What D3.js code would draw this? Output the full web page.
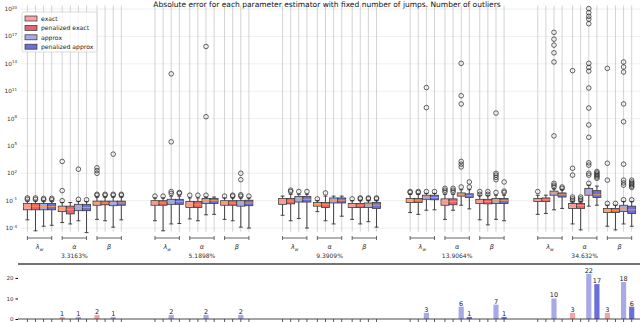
<!DOCTYPE html>
<html>
<head>
<meta charset="utf-8">
<script src="https://cdn.jsdelivr.net/npm/d3@7"></script>
<style>
  body { margin: 0; background: #fff; }
  text { font-family: 'DejaVu Sans', sans-serif; }
</style>
</head>
<body>
<div id="chart"></div>
<script>
const title = 'Absolute error for each parameter estimator with fixed number of jumps. Number of outliers'
const estimators = ['exact', 'penalized exact', 'approx', 'penalized approx']
const colors = ['#f4a3a9', '#e3646c', '#a8aae6', '#6b70d8']
const params = ['λw', 'α', 'β']
const percents = ['3.3163%', '5.1898%', '9.3909%', '13.9064%', '34.632%']
const yTickExp = [-4, -1, 2, 5, 8, 11, 14, 17, 20]

// box stats as log10 exponents, 5 groups x 3 params x 4 estimators
const whiskLow = [
  -3.1, -4.3, -3.8, -3.7,  -3.4, -3.55, -3.2, -4.5,  -3.05, -3.2, -3.9, -3.1,
  -3.2, -4.3, -3.55, -3.5,  -3.0, -3.2, -2.55, -2.5,  -3.05, -3.2, -3.9, -4.0,
  -2.6, -3.2, -2.95, -4.0,  -2.2, -3.2, -3.55, -2.7,  -3.05, -3.55, -3.3, -3.9,
  -2.3, -2.5, -2.05, -2.0,  -3.05, -2.05, -1.5, -1.9,  -3.1, -3.65, -3.05, -3.2,
  -2.5, -2.4, -2.0, -1.85,  -3.55, -4.2, -1.6, -1.5,  -3.8, -4.2, -3.55, -3.8
]
const q1 = [
  -2.0, -2.0, -2.0, -2.0,  -2.2, -2.45, -2.1, -2.1,  -1.5, -1.45, -1.55, -1.5,
  -1.5, -1.5, -1.4, -1.4,  -1.75, -1.75, -1.3, -1.3,  -1.5, -1.5, -1.6, -1.55,
  -1.4, -1.35, -1.15, -1.15,  -1.6, -1.75, -1.25, -1.25,  -1.75, -1.75, -1.75, -1.85,
  -1.2, -1.2, -0.85, -0.9,  -1.5, -1.45, -0.5, -0.65,  -1.3, -1.35, -1.3, -1.3,
  -1.1, -1.1, -0.4, -0.6,  -1.85, -1.85, -0.4, -0.65,  -2.3, -2.3, -2.2, -2.4
]
const median = [
  -1.6, -1.6, -1.65, -1.65,  -1.85, -1.95, -1.75, -1.75,  -1.25, -1.25, -1.3, -1.25,
  -1.25, -1.25, -1.1, -1.1,  -1.45, -1.45, -1.0, -1.0,  -1.25, -1.25, -1.3, -1.25,
  -1.05, -1.05, -0.85, -0.85,  -1.4, -1.45, -0.95, -0.95,  -1.5, -1.5, -1.45, -1.5,
  -0.95, -0.95, -0.6, -0.65,  -1.15, -1.1, -0.3, -0.45,  -1.05, -1.1, -1.0, -1.0,
  -0.9, -0.9, -0.15, -0.35,  -1.55, -1.55, -0.25, -0.35,  -2.05, -2.05, -1.9, -2.0
]
const q3 = [
  -1.3, -1.3, -1.3, -1.3,  -1.6, -1.6, -1.4, -1.4,  -1.05, -1.05, -1.05, -1.05,
  -1.0, -1.0, -0.85, -0.85,  -1.1, -1.1, -0.75, -0.75,  -1.0, -1.0, -1.0, -0.95,
  -0.75, -0.75, -0.55, -0.55,  -1.2, -1.2, -0.7, -0.7,  -1.3, -1.3, -1.25, -1.2,
  -0.75, -0.75, -0.4, -0.4,  -0.8, -0.8, -0.15, -0.25,  -0.85, -0.85, -0.75, -0.75,
  -0.75, -0.7, 0.05, -0.15,  -1.3, -1.3, 0.35, 0.1,  -1.85, -1.85, -1.5, -1.6
]
const whiskHigh = [
  -1.05, -1.05, -1.05, -1.05,  -1.2, -1.2, -1.1, -1.1,  -0.6, -0.6, -0.6, -0.6,
  -0.7, -0.7, -0.5, -0.5,  -0.7, -0.7, -0.6, -0.6,  -0.7, -0.7, -0.7, -0.7,
  -0.5, -0.3, -0.3, -0.3,  -1.0, -0.5, -0.5, -0.5,  -1.0, -1.0, -1.0, -1.0,
  -0.3, -0.3, -0.2, -0.2,  -0.3, -0.3, 0.2, 0.2,  -0.4, -0.4, -0.4, -0.4,
  -0.4, -0.4, 0.3, 0.2,  -1.1, -1.1, 0.7, 0.6,  -1.5, -1.5, -1.1, -1.1
]
const outliers = [
  [-0.7, -0.85], [-0.7, -0.85], [-0.75, -0.9], [-0.75, -0.9],
  [-1.0, 0.1, 3.3], [], [-0.85, 2.45], [-0.9],
  [-0.4, -0.3, 2.0, 2.3, 2.6], [-0.4, -0.3], [-0.4, -0.3, 4.1], [-0.4, -0.3],
  [-0.5], [-0.5], [-0.2, 0.0, 5.45, 12.9], [-0.2, -0.1],
  [-0.4], [-0.4], [-0.4, 8.2, 15.9], [],
  [-0.5], [-0.5, -0.4], [-0.5, -0.35, 1.3, 2.0], [-0.5],
  [], [0.0, 0.15], [0.0], [0.0],
  [-0.8], [-0.15], [], [],
  [-0.8], [-0.8, -0.7], [-0.8, -0.7], [-0.8, -0.7],
  [0.0, -0.1], [0.0, -0.1], [0.0, 9.2, 11.4], [0.0],
  [-0.05, 0.15, 0.35], [-0.05, 0.15, 0.35], [0.5, 2.7, 3.0, 3.3, 9.6, 10.5, 14.05], [0.5, 1.05],
  [-0.3, 0.0], [-0.3, 0.0], [-0.1, 1.3, 1.55, 1.8, 2.0, 8.6], [-0.1, 0.05, 1.05],
  [0.0], [], [0.5, 0.7, 0.9, 6.1, 14.2, 15.2, 16.05, 16.7, 17.45], [0.35, 0.5],
  [-1.0, -0.8, -0.6, 1.8, 2.55, 13.25], [-1.0, -0.8, -0.6],
  [0.9, 1.8, 2.0, 2.9, 3.15, 5.95, 7.3, 9.15, 11.35, 13.2, 13.6, 14.05, 18.4, 18.9, 19.2, 19.6, 20.05],
  [1.45, 1.6, 1.75, 1.9, 2.05, 2.2],
  [-1.3, 1.25, 3.1, 13.5], [-1.3],
  [-0.9, 0.7, 0.95, 1.25, 3.0, 7.65, 9.6, 13.1, 13.65, 14.2],
  [-0.9, 0.45, 0.6, 0.75, 0.9, 1.05, 1.25]
]
const outlierCount = [
  0, 0, 0, 0,  1, 0, 1, 0,  2, 0, 1, 0,
  0, 0, 2, 0,  0, 0, 2, 0,  0, 0, 2, 0,
  0, 0, 0, 0,  0, 0, 0, 0,  0, 0, 0, 0,
  0, 0, 3, 0,  0, 0, 6, 1,  0, 0, 7, 1,
  0, 0, 10, 0,  3, 0, 22, 17,  3, 0, 18, 6
]

const W = 640, H = 322
const offsets = [-1.05, -0.35, 0.35, 1.05]
const boxes = whiskLow.map((lo, i) => {
  const g = Math.floor(i / 12), p = Math.floor(i / 4) % 3, e = i % 4
  return {
    pos: g * 11 + p * 3 + offsets[e], e,
    lo, q1: q1[i], med: median[i], q3: q3[i], hi: whiskHigh[i],
    out: outliers[i], count: outlierCount[i]
  }
})

const x = d3.scaleLinear().domain([-1.6, 51.8]).range([21, 640.4])
const y = d3.scaleLog().domain([Math.pow(10, -4.4), Math.pow(10, 20.4)]).range([231.7, 5.4])
const y2 = d3.scaleLinear().domain([0, 26.3]).range([319, 265])
const ey = v => y(Math.pow(10, v))
const bw = x(0.68) - x(0)

const svg = d3.select('#chart').append('svg').attr('width', W).attr('height', H)

// main panel grid
const main = svg.append('g')
main.selectAll('.hgrid').data(yTickExp).enter().append('line')
  .attr('x1', x.range()[0]).attr('x2', W)
  .attr('y1', d => ey(d)).attr('y2', d => ey(d))
  .attr('stroke', '#ebebeb').attr('stroke-width', 0.8)
main.selectAll('.vgrid').data(boxes).enter().append('line')
  .attr('x1', d => x(d.pos)).attr('x2', d => x(d.pos))
  .attr('y1', y.range()[1]).attr('y2', y.range()[0])
  .attr('stroke', '#c8c8c8').attr('stroke-width', 0.8)

const ylab = main.selectAll('.ylab').data(yTickExp).enter().append('text')
  .attr('x', 17).attr('y', d => ey(d) + 2)
  .attr('text-anchor', 'end').attr('font-size', 5.8).attr('fill', '#333')
ylab.append('tspan').text('10')
ylab.append('tspan').attr('dy', -2.5).attr('font-size', 4).text(d => d)

// boxes
const bx = main.selectAll('.box').data(boxes).enter().append('g')
bx.append('line')
  .attr('x1', d => x(d.pos)).attr('x2', d => x(d.pos))
  .attr('y1', d => ey(d.lo)).attr('y2', d => ey(d.q1))
  .attr('stroke', '#333').attr('stroke-width', 0.9)
bx.append('line')
  .attr('x1', d => x(d.pos)).attr('x2', d => x(d.pos))
  .attr('y1', d => ey(d.q3)).attr('y2', d => ey(d.hi))
  .attr('stroke', '#333').attr('stroke-width', 0.9)
bx.selectAll('.cap').data(d => [d.lo, d.hi].map(v => ({ pos: d.pos, v }))).enter().append('line')
  .attr('x1', d => x(d.pos) - bw / 4).attr('x2', d => x(d.pos) + bw / 4)
  .attr('y1', d => ey(d.v)).attr('y2', d => ey(d.v))
  .attr('stroke', '#333').attr('stroke-width', 0.9)
bx.append('rect')
  .attr('x', d => x(d.pos) - bw / 2).attr('width', bw)
  .attr('y', d => ey(d.q3)).attr('height', d => ey(d.q1) - ey(d.q3))
  .attr('fill', d => colors[d.e]).attr('stroke', '#3a3a3a').attr('stroke-width', 0.8)
bx.append('line')
  .attr('x1', d => x(d.pos) - bw / 2).attr('x2', d => x(d.pos) + bw / 2)
  .attr('y1', d => ey(d.med)).attr('y2', d => ey(d.med))
  .attr('stroke', '#ff9a3c').attr('stroke-width', 0.9)
bx.selectAll('.out').data(d => d.out.map(v => ({ pos: d.pos, v }))).enter().append('circle')
  .attr('cx', d => x(d.pos)).attr('cy', d => ey(d.v)).attr('r', 2.3)
  .attr('fill', 'none').attr('stroke', '#222').attr('stroke-width', 0.7)

// parameter brackets
const groupsIdx = d3.range(5)
const labels = []
groupsIdx.forEach(g => params.forEach((p, j) => labels.push({ c: g * 11 + j * 3, p })))
const br = svg.selectAll('.br').data(labels).enter().append('g').attr('stroke', '#555').attr('stroke-width', 0.9)
br.append('line').attr('x1', d => x(d.c - 1.05)).attr('x2', d => x(d.c + 1.05)).attr('y1', 238).attr('y2', 238)
br.append('line').attr('x1', d => x(d.c - 1.05)).attr('x2', d => x(d.c - 1.05)).attr('y1', 236).attr('y2', 240)
br.append('line').attr('x1', d => x(d.c + 1.05)).attr('x2', d => x(d.c + 1.05)).attr('y1', 236).attr('y2', 240)
const pl = svg.selectAll('.pl').data(labels).enter().append('text')
  .attr('x', d => x(d.c)).attr('y', 249)
  .attr('text-anchor', 'middle').attr('font-size', 6.5).attr('font-style', 'italic').attr('fill', '#333')
pl.append('tspan').text(d => d.p[0])
pl.append('tspan').attr('dy', 1.5).attr('font-size', 4.5).text(d => d.p.slice(1))
svg.selectAll('.pct').data(percents).enter().append('text')
  .attr('x', (d, i) => x(i * 11 + 3)).attr('y', 258)
  .attr('text-anchor', 'middle').attr('font-size', 6).attr('fill', '#333')
  .text(d => d)

// title
svg.append('text').attr('x', 327).attr('y', 6.5)
  .attr('text-anchor', 'middle').attr('font-size', 7.5).attr('fill', '#111')
  .text(title)

// legend
const lg = svg.append('g').attr('transform', 'translate(22,12)')
lg.append('rect').attr('width', 75).attr('height', 40).attr('rx', 2)
  .attr('fill', 'rgba(255,255,255,0.8)').attr('stroke', '#ccc').attr('stroke-width', 0.7)
estimators.forEach((name, i) => {
  lg.append('rect').attr('x', 3).attr('y', 4 + i * 9.4).attr('width', 12).attr('height', 5)
    .attr('fill', colors[i]).attr('stroke', '#333').attr('stroke-width', 0.7)
  lg.append('text').attr('x', 19).attr('y', 8.9 + i * 9.4)
    .attr('font-size', 6.1).attr('fill', '#222').text(name)
})

// lower panel: number of outliers
const low = svg.append('g')
low.append('line').attr('x1', 18).attr('x2', W).attr('y1', 264).attr('y2', 264)
  .attr('stroke', '#444').attr('stroke-width', 1.6)
low.selectAll('.bar').data(boxes.filter(d => d.count > 0)).enter().append('rect')
  .attr('x', d => x(d.pos) - 2.6).attr('width', 5.2)
  .attr('y', d => y2(d.count)).attr('height', d => y2(0) - y2(d.count))
  .attr('fill', d => colors[d.e])
low.selectAll('.blab').data(boxes.filter(d => d.count > 0)).enter().append('text')
  .attr('x', d => x(d.pos)).attr('y', d => y2(d.count) - 1)
  .attr('text-anchor', 'middle').attr('font-size', 6.5).attr('fill', '#222')
  .text(d => d.count)
low.append('line').attr('x1', 18).attr('x2', W).attr('y1', y2(0)).attr('y2', y2(0))
  .attr('stroke', '#333').attr('stroke-width', 0.9)
low.selectAll('.xt').data(boxes).enter().append('line')
  .attr('x1', d => x(d.pos)).attr('x2', d => x(d.pos))
  .attr('y1', y2(0)).attr('y2', y2(0) + 3)
  .attr('stroke', '#333').attr('stroke-width', 0.8)
const yAxis2 = d3.axisLeft(y2).tickValues([0, 10, 20]).tickSize(2.5).tickPadding(2)
low.append('g').attr('transform', 'translate(18,0)').call(yAxis2)
  .call(g => g.select('.domain').remove())
  .call(g => g.selectAll('text').attr('font-size', 5.5).attr('fill', '#333').attr('font-family', 'DejaVu Sans'))
</script>
</body>
</html>
